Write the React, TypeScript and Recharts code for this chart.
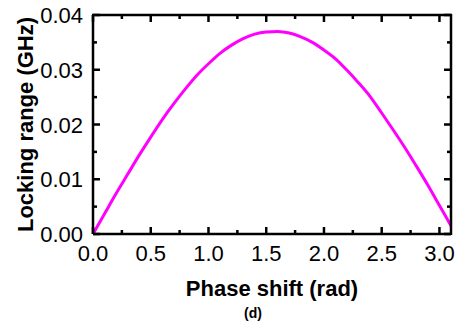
import React from "react"
import { LineChart, Line, XAxis, YAxis, Label } from "recharts"

// phase shift (rad) and locking range (GHz)
const phaseShift = [
  0, 0.1, 0.2, 0.3, 0.4, 0.5, 0.6, 0.7, 0.8, 0.9, 1.0, 1.1, 1.2, 1.3, 1.4, 1.5,
  1.6, 1.7, 1.8, 1.9, 2.0, 2.1, 2.2, 2.3, 2.4, 2.5, 2.6, 2.7, 2.8, 2.9, 3.0, 3.1,
]
const lockingRange = [
  0, 0.0037, 0.0074, 0.0109, 0.0144, 0.0177, 0.0209, 0.0238, 0.0265, 0.029,
  0.0311, 0.033, 0.0345, 0.0357, 0.0365, 0.0369, 0.037, 0.0367, 0.036, 0.035,
  0.0336, 0.032, 0.0299, 0.0276, 0.0251, 0.0221, 0.019, 0.0158, 0.0124,
  0.0089, 0.0052, 0.0015,
]

const xTicks = [0, 0.25, 0.5, 0.75, 1.0, 1.25, 1.5, 1.75, 2.0, 2.25, 2.5, 2.75, 3.0]
const yTicks = [0, 0.005, 0.01, 0.015, 0.02, 0.025, 0.03, 0.035, 0.04]
const X_MAX = 3.1
const Y_MAX = 0.04

const data = phaseShift.map((x, i) => ({ x, range: lockingRange[i] }))

const FONT = "'Liberation Sans', Arial, sans-serif"
const MAJOR = 7
const MINOR = 4
// plot box size, used to mirror the inward ticks and draw the top/right frame
const PLOT_W = 358
const PLOT_H = 219

const isMajor = (v: number, step: number) => Math.abs(v / step - Math.round(v / step)) < 1e-6

function BottomTick(props: any) {
  const { x, y, payload } = props
  const len = isMajor(payload.value, 0.5) ? MAJOR : MINOR
  const top = y - PLOT_H
  return (
    <g>
      <line x1={x} x2={x} y1={y} y2={y - len} stroke="black" strokeWidth={2.5} />
      <line x1={x} x2={x} y1={top} y2={top + len} stroke="black" strokeWidth={2.5} />
      {payload.value === 0 && (
        <line x1={x - 1} x2={x + PLOT_W + 1} y1={top} y2={top} stroke="black" strokeWidth={2.5} />
      )}
      {len === MAJOR && (
        <text x={x} y={y + 27} textAnchor="middle" fontSize={22} fontFamily={FONT} fill="black">
          {payload.value.toFixed(1)}
        </text>
      )}
    </g>
  )
}

function LeftTick(props: any) {
  const { x, y, payload } = props
  const len = isMajor(payload.value, 0.01) ? MAJOR : MINOR
  const right = x + PLOT_W
  return (
    <g>
      <line x1={x} x2={x + len} y1={y} y2={y} stroke="black" strokeWidth={2.5} />
      <line x1={right} x2={right - len} y1={y} y2={y} stroke="black" strokeWidth={2.5} />
      {payload.value === 0 && (
        <line x1={right} x2={right} y1={y + 1} y2={y - PLOT_H - 1} stroke="black" strokeWidth={2.5} />
      )}
      {len === MAJOR && (
        <text x={x - 10} y={y + 8} textAnchor="end" fontSize={22} fontFamily={FONT} fill="black">
          {payload.value.toFixed(2)}
        </text>
      )}
    </g>
  )
}

function XTitle({ viewBox }: any) {
  const cx = viewBox.x + viewBox.width / 2
  return (
    <g fontFamily={FONT} fontWeight="bold" fill="black">
      <text x={cx} y={viewBox.y + 62} textAnchor="middle" fontSize={22}>
        Phase shift (rad)
      </text>
      <text x={cx - 19} y={viewBox.y + 84} textAnchor="middle" fontSize={14}>
        (d)
      </text>
    </g>
  )
}

function YTitle({ viewBox }: any) {
  const cy = viewBox.y + viewBox.height / 2
  return (
    <text
      x={33}
      y={cy}
      transform={`rotate(-90, 33, ${cy})`}
      textAnchor="middle"
      fontSize={22}
      fontWeight="bold"
      fontFamily={FONT}
      fill="black"
    >
      Locking range (GHz)
    </text>
  )
}

export default function App() {
  const axisLine = { stroke: "black", strokeWidth: 2.5 }
  return (
    <div style={{ position: "absolute", left: 0, top: 0, background: "#fff" }}>
      <LineChart width={457} height={322} data={data} margin={{ top: 15, right: 6, bottom: 28, left: 0 }}>
        <XAxis
          dataKey="x"
          type="number"
          domain={[0, X_MAX]}
          ticks={xTicks}
          interval={0}
          tickLine={false}
          tickSize={0}
          tickMargin={0}
          axisLine={axisLine}
          tick={BottomTick}
          height={60}
        >
          <Label content={XTitle} />
        </XAxis>
        <YAxis
          type="number"
          domain={[0, Y_MAX]}
          ticks={yTicks}
          interval={0}
          tickLine={false}
          tickSize={0}
          tickMargin={0}
          axisLine={axisLine}
          tick={LeftTick}
          width={93}
        >
          <Label content={YTitle} />
        </YAxis>
        <Line
          dataKey="range"
          type="monotone"
          stroke="#ff00ff"
          strokeWidth={3}
          dot={false}
          isAnimationActive={false}
        />
      </LineChart>
    </div>
  )
}
